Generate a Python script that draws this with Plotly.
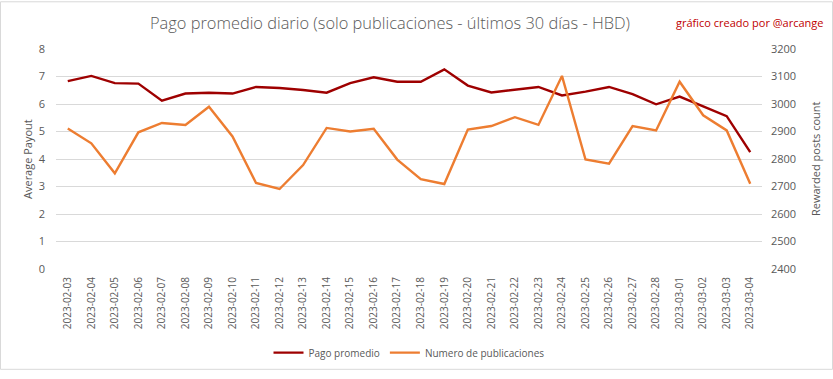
import plotly.graph_objects as go

dates = ["2023-02-03","2023-02-04","2023-02-05","2023-02-06","2023-02-07","2023-02-08",
         "2023-02-09","2023-02-10","2023-02-11","2023-02-12","2023-02-13","2023-02-14",
         "2023-02-15","2023-02-16","2023-02-17","2023-02-18","2023-02-19","2023-02-20",
         "2023-02-21","2023-02-22","2023-02-23","2023-02-24","2023-02-25","2023-02-26",
         "2023-02-27","2023-02-28","2023-03-01","2023-03-02","2023-03-03","2023-03-04"]

pago_promedio = [6.83, 7.02, 6.76, 6.74, 6.12, 6.38, 6.41, 6.38, 6.62, 6.58,
                 6.51, 6.41, 6.76, 6.97, 6.81, 6.81, 7.26, 6.67, 6.42, 6.51,
                 6.62, 6.31, 6.45, 6.62, 6.36, 5.99, 6.27, 5.91, 5.56, 4.25]

numero_publicaciones = [2911, 2857, 2748, 2897, 2931, 2924, 2990, 2882, 2713, 2691,
                        2778, 2913, 2900, 2910, 2798, 2727, 2709, 2907, 2920, 2952,
                        2924, 3102, 2798, 2783, 2920, 2904, 3081, 2959, 2904, 2710]

title_text = "Pago promedio diario (solo publicaciones - últimos 30 días - HBD)"
credit_text = "gráfico creado por @arcange"
left_title = "Average Payout"
right_title = "Rewarded posts count"

GREY = "#595959"
FONT = "Open Sans"

fig = go.Figure()
fig.add_trace(go.Scatter(x=dates, y=pago_promedio, name="Pago promedio", mode="lines",
                         line=dict(color="#9E0000", width=2.4), yaxis="y"))
fig.add_trace(go.Scatter(x=dates, y=numero_publicaciones, name="Numero de publicaciones",
                         mode="lines", line=dict(color="#ED7D31", width=2.4), yaxis="y2"))

fig.update_layout(
    width=833, height=379,
    margin=dict(l=56, r=71, t=49, b=104),
    paper_bgcolor="white", plot_bgcolor="white",
    font=dict(family=FONT, color=GREY, size=11),
    showlegend=True,
    legend=dict(orientation="h", x=0.5, xanchor="center", y=-0.38, yanchor="middle",
                font=dict(size=10, color=GREY), itemwidth=30, bgcolor="rgba(0,0,0,0)"),
    xaxis=dict(type="category", range=[-0.5, 29.5], tickangle=-90, showgrid=False,
               tickfont=dict(size=10, color=GREY), ticks="", showline=False,
               zeroline=False, ticklabelstandoff=5),
    yaxis=dict(range=[0, 8], dtick=1, showgrid=True, gridcolor="#D9D9D9", gridwidth=1,
               zeroline=False, tickfont=dict(size=11, color=GREY), ticks="",
               ticklabelstandoff=10),
    yaxis2=dict(range=[2400, 3200], dtick=100, overlaying="y", side="right",
                showgrid=False, zeroline=False, tickfont=dict(size=11, color=GREY),
                ticks="", ticklabelstandoff=8),
    shapes=[dict(type="rect", xref="paper", yref="paper", x0=-0.0786, x1=1.0999,
                 y0=-0.456, y1=1.2146, line=dict(color="#D9D9D9", width=1),
                 fillcolor="rgba(0,0,0,0)", layer="below")],
    annotations=[
        dict(text=title_text, xref="paper", yref="paper", x=(390 - 56) / 706, y=1.119,
             xanchor="center", yanchor="middle", showarrow=False,
             font=dict(family=FONT, size=16.4, color=GREY, weight=300)),
        dict(text=credit_text, xref="paper", yref="paper", x=(826 - 56) / 706, y=1.119,
             xanchor="right", yanchor="middle", showarrow=False,
             font=dict(family=FONT, size=11, color="#C00000")),
        dict(text=left_title, xref="paper", yref="paper", x=(27 - 56) / 706, y=0.5,
             xanchor="center", yanchor="middle", textangle=-90, showarrow=False,
             font=dict(family=FONT, size=11, color=GREY)),
        dict(text=right_title, xref="paper", yref="paper", x=(815 - 56) / 706, y=0.5,
             xanchor="center", yanchor="middle", textangle=-90, showarrow=False,
             font=dict(family=FONT, size=11, color=GREY)),
    ],
)

fig.write_html("out.html", config={"displayModeBar": False},
               post_script="document.body.style.margin='0';")
